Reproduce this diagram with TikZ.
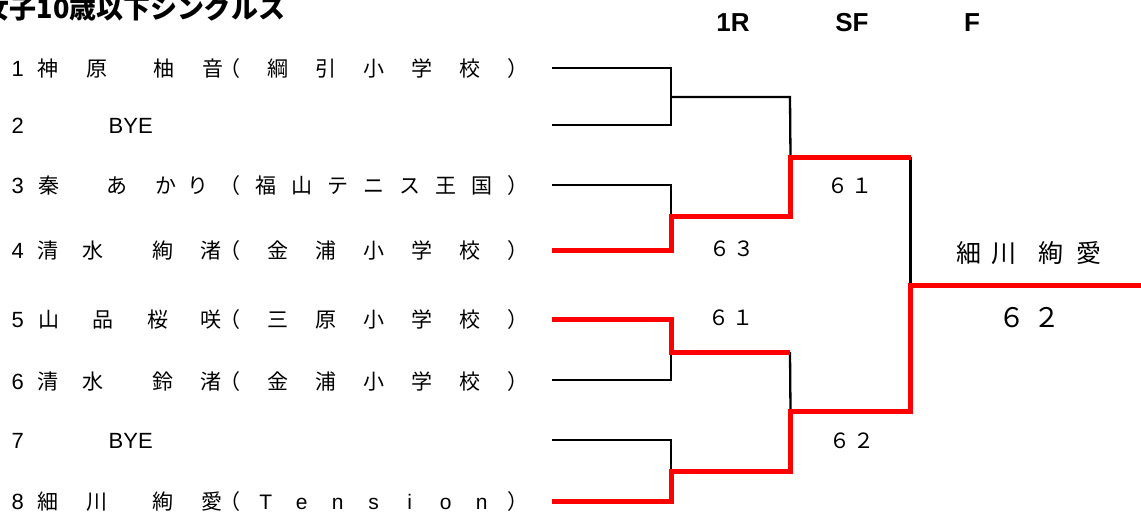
\documentclass[tikz,border=0pt]{standalone}
\usepackage{fontspec}
\setmainfont{Liberation Sans}
\newfontfamily\jp{Noto Sans CJK JP}
\newfontfamily\lat{Liberation Sans}
\newcommand\glat[2]{\rlap{\hspace*{#1pt}\makebox[0pt]{#2}}\ignorespaces}
\newcommand\schA[5]{\glat{229}{（}\glat{277}{#1}\glat{325}{#2}\glat{373}{#3}\glat{421}{#4}\glat{469}{#5}\glat{517}{）}}
\newcommand\schB[7]{\glat{229}{（}\glat{265}{#1}\glat{301}{#2}\glat{337}{#3}\glat{373}{#4}\glat{409}{#5}\glat{445}{#6}\glat{481}{#7}\glat{517}{）}}
\newcommand\num[1]{\glat{17}{{\lat\fontsize{22pt}{26pt}\selectfont #1}}}
\tikzset{
  blk/.style={line width=2.3pt, black},
  win/.style={line width=5pt, red, line join=miter},
  row/.style={anchor=base west, inner sep=0pt, font=\jp\fontsize{21pt}{25pt}\selectfont},
  score/.style={inner sep=0pt, font=\jp\fontsize{21pt}{25pt}\selectfont},
  head/.style={inner sep=0pt, font=\lat\bfseries\fontsize{26pt}{30pt}\selectfont},
}
\begin{document}
\begin{tikzpicture}[x=1pt,y=-1pt]
\useasboundingbox (0,0) rectangle (1141,522);
% title
\node[anchor=base west, inner sep=0pt, font=\jp\bfseries\fontsize{27pt}{30pt}\selectfont] (title) at (-17.5,18) {女子10歳以下シングルス};
% headers
\node[head] (h1) at (733,23) {1R};
\node[head] (h2) at (852,23) {SF};
\node[head] (h3) at (972,23) {F};
% players
\node[row] (r1) at (0,76) {\num{1}\glat{47}{神}\glat{96}{原}\glat{163}{柚}\glat{212}{音}\schA{綱}{引}{小}{学}{校}};
\node[row] (r2) at (0,133) {\num{2}\glat{130}{{\lat\fontsize{22pt}{26pt}\selectfont BYE}}};
\node[row] (r3) at (0,193) {\num{3}\glat{48}{秦}\glat{116}{あ}\glat{165}{か}\glat{197}{り}\schB{福}{山}{テ}{ニ}{ス}{王}{国}};
\node[row] (r4) at (0,258) {\num{4}\glat{47}{清}\glat{92}{水}\glat{162}{絢}\glat{210}{渚}\schA{金}{浦}{小}{学}{校}};
\node[row] (r5) at (0,327.5) {\num{5}\glat{48}{山}\glat{102}{品}\glat{157}{桜}\glat{210}{咲}\schA{三}{原}{小}{学}{校}};
\node[row] (r6) at (0,389) {\num{6}\glat{47}{清}\glat{92}{水}\glat{162}{鈴}\glat{210}{渚}\schA{金}{浦}{小}{学}{校}};
\node[row] (r7) at (0,448.5) {\num{7}\glat{130}{{\lat\fontsize{22pt}{26pt}\selectfont BYE}}};
\node[row] (r8) at (0,509.5) {\num{8}\glat{47}{細}\glat{96}{川}\glat{162}{絢}\glat{211}{愛}\schB{{\lat T}}{{\lat e}}{{\lat n}}{{\lat s}}{{\lat i}}{{\lat o}}{{\lat n}}};
% bracket coordinates
\coordinate (s1) at (552,68);
\coordinate (s2) at (552,125);
\coordinate (s3) at (552,185);
\coordinate (s4) at (552,250);
\coordinate (s5) at (552,319);
\coordinate (s6) at (552,380);
\coordinate (s7) at (552,440);
\coordinate (s8) at (552,501);
\coordinate (m1) at (671,97);
\coordinate (m2) at (671,216);
\coordinate (m3) at (671,352);
\coordinate (m4) at (671,471);
\coordinate (t1) at (790,97);
\coordinate (q1) at (790.5,157);
\coordinate (t3) at (790,352);
\coordinate (q2) at (790.5,411);
\coordinate (u1) at (910.5,157);
\coordinate (fin) at (910.5,285);
\coordinate (champ) at (1141,285);
% black lines
\draw[blk] (s1) -| (m1) |- (s2);
\draw[blk] (m1) -- (t1) -- (q1);
\draw[blk] (s3) -| (m2);
\draw[blk] (s6) -| (m3);
\draw[blk] (t3) -- (q2);
\draw[blk] (s7) -| (m4);
\draw[blk] (u1) -- (fin);
% winners (red)
\draw[win] (s4) -| (m2) -| (q1) -- (u1);
\draw[win] (s5) -| (m3) -- (t3);
\draw[win] (s8) -| (m4) -| (q2) -| (fin) -- (champ);
% scores
\node[score] (sc1) at (732,249) {６\hspace{4pt}３};
\node[score] (sc2) at (731,318) {６\hspace{4pt}１};
\node[score] (sc3) at (850,186) {６\hspace{4pt}１};
\node[score] (sc4) at (852,441) {６\hspace{4pt}２};
\node[inner sep=0pt, font=\jp\fontsize{27pt}{30pt}\selectfont] (sc5) at (1029,318) {６\hspace{8pt}２};
\node[inner sep=0pt, font=\jp\fontsize{25pt}{29pt}\selectfont] (winner) at (1029,253) {細\hspace{10pt}川\hspace{22pt}絢\hspace{13pt}愛};
\end{tikzpicture}
\end{document}
